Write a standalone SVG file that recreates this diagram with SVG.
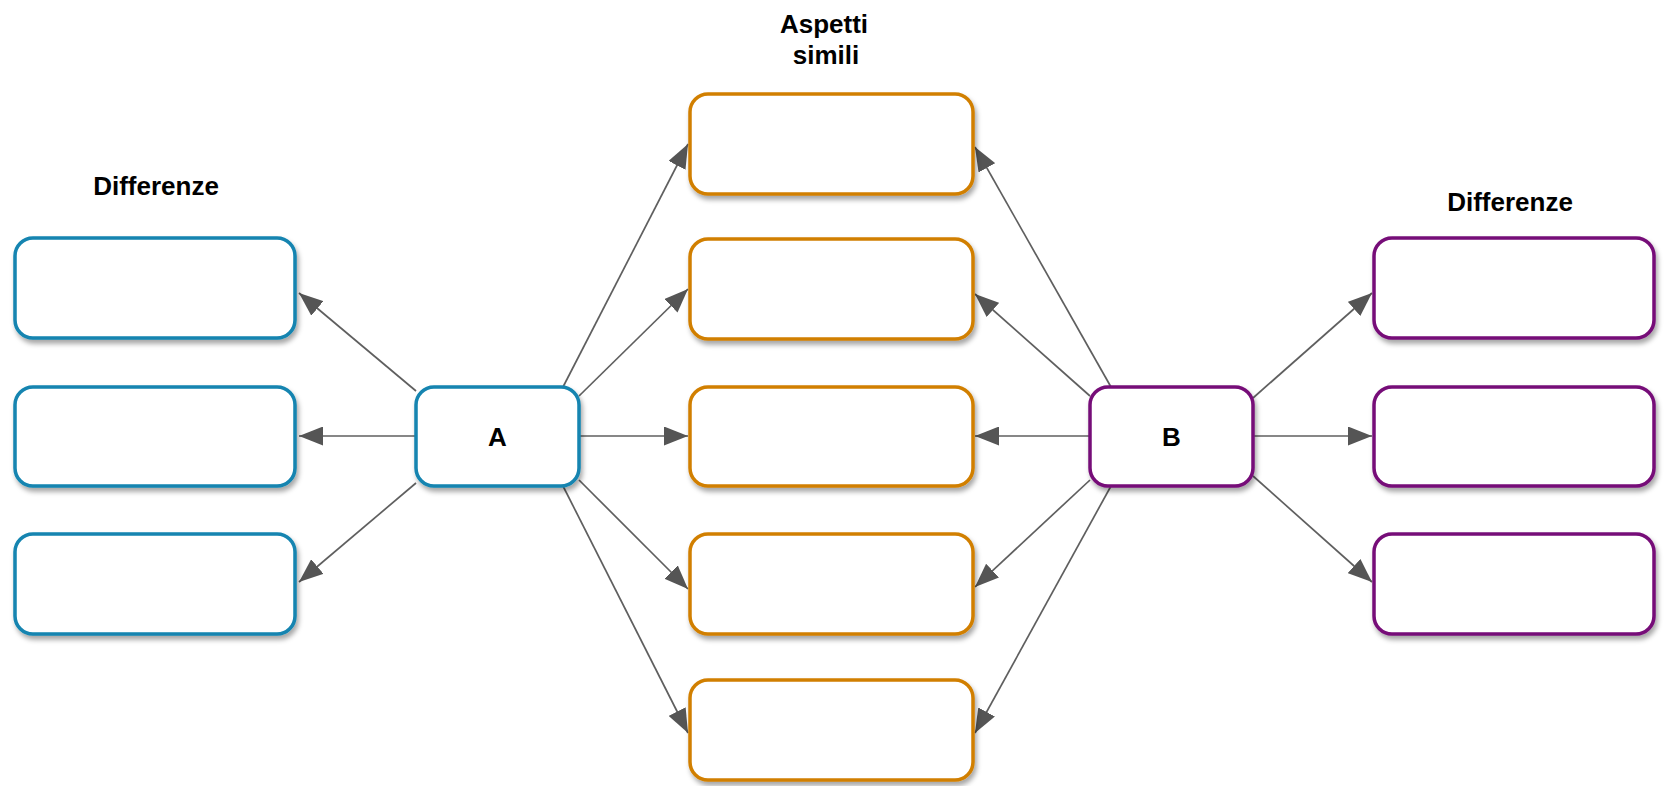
<svg xmlns="http://www.w3.org/2000/svg" width="1665" height="786" viewBox="0 0 1665 786">
<style>
.box{fill:#fff;stroke-width:3.5;filter:url(#sh)}
.blue{stroke:#1284b0}
.orange{stroke:#d17f00}
.purple{stroke:#760a78}
.lbl{font-family:"Liberation Sans",Arial,sans-serif;font-weight:bold;font-size:26px;fill:#000;text-anchor:middle}
.conn line{stroke:#5f5f5f;stroke-width:1.7;marker-end:url(#ah)}
</style>
<defs>
<filter id="sh" x="-10%" y="-10%" width="130%" height="140%">
<feDropShadow dx="2" dy="4" stdDeviation="2.5" flood-color="#000" flood-opacity="0.35"/>
</filter>
<marker id="ah" viewBox="0 0 24 19" refX="24" refY="9.5" markerWidth="24" markerHeight="19" markerUnits="userSpaceOnUse" orient="auto">
<path d="M0,0 L24,9.5 L0,19 z" fill="#555"/>
</marker>
</defs>
<rect width="1665" height="786" fill="#fff"/>
<text class="lbl" x="156" y="195">Differenze</text>
<text class="lbl" x="824" y="33">Aspetti</text>
<text class="lbl" x="826" y="64">simili</text>
<text class="lbl" x="1510" y="211">Differenze</text>

<g id="connectors" class="conn">
<line x1="416" y1="391" x2="299" y2="293"/>
<line x1="416" y1="436" x2="299" y2="436"/>
<line x1="416" y1="483" x2="299" y2="582"/>
<line x1="563" y1="387" x2="688" y2="144"/>
<line x1="579" y1="396" x2="688" y2="289"/>
<line x1="579" y1="436" x2="688" y2="436"/>
<line x1="579" y1="480" x2="688" y2="589"/>
<line x1="563" y1="486" x2="688" y2="733"/>
<line x1="1111" y1="387" x2="975" y2="147"/>
<line x1="1090" y1="396" x2="975" y2="294"/>
<line x1="1090" y1="436" x2="975" y2="436"/>
<line x1="1090" y1="480" x2="975" y2="587"/>
<line x1="1111" y1="486" x2="975" y2="733"/>
<line x1="1253" y1="398" x2="1372" y2="293"/>
<line x1="1253" y1="436" x2="1372" y2="436"/>
<line x1="1253" y1="476" x2="1372" y2="582"/>
</g>

<g id="L1"><rect class="box blue" x="15" y="238" width="280" height="100" rx="18"/></g>
<g id="L2"><rect class="box blue" x="15" y="387" width="280" height="99" rx="18"/></g>
<g id="L3"><rect class="box blue" x="15" y="534" width="280" height="100" rx="18"/></g>
<g id="A"><rect class="box blue" x="416" y="387" width="163" height="99" rx="18"/><text class="lbl" x="497.5" y="446">A</text></g>
<g id="M1"><rect class="box orange" x="690" y="94" width="283" height="100" rx="18"/></g>
<g id="M2"><rect class="box orange" x="690" y="239" width="283" height="100" rx="18"/></g>
<g id="M3"><rect class="box orange" x="690" y="387" width="283" height="99" rx="18"/></g>
<g id="M4"><rect class="box orange" x="690" y="534" width="283" height="100" rx="18"/></g>
<g id="M5"><rect class="box orange" x="690" y="680" width="283" height="100" rx="18"/></g>
<g id="B"><rect class="box purple" x="1090" y="387" width="163" height="99" rx="18"/><text class="lbl" x="1171.5" y="446">B</text></g>
<g id="R1"><rect class="box purple" x="1374" y="238" width="280" height="100" rx="18"/></g>
<g id="R2"><rect class="box purple" x="1374" y="387" width="280" height="99" rx="18"/></g>
<g id="R3"><rect class="box purple" x="1374" y="534" width="280" height="100" rx="18"/></g>
</svg>
